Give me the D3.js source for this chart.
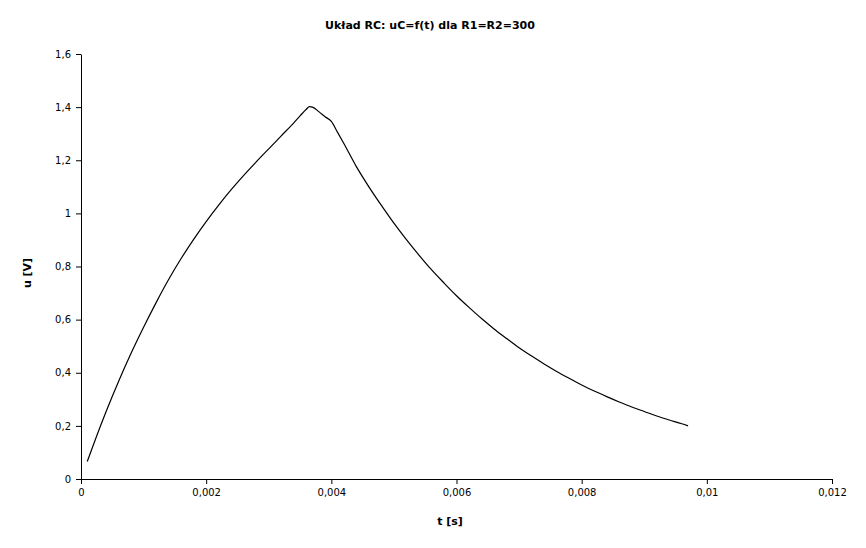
<!DOCTYPE html>
<html>
<head>
<meta charset="utf-8">
<script src="https://cdn.jsdelivr.net/npm/d3@7"></script>
<style>
  html, body { margin: 0; padding: 0; background: #fff; }
  svg { display: block; font-family: "DejaVu Sans", sans-serif; }
</style>
</head>
<body>
<svg id="chart" width="866" height="548"></svg>
<script>
// ---- data ----
const title = "Układ RC: uC=f(t) dla R1=R2=300";
const xLabel = "t [s]";
const yLabel = "u [V]";
const xTicks = [0, 0.002, 0.004, 0.006, 0.008, 0.01, 0.012];
const yTicks = [0, 0.2, 0.4, 0.6, 0.8, 1.0, 1.2, 1.4, 1.6];

const tValues = [
  0.0001, 0.0002, 0.0004, 0.0006, 0.0008, 0.0010, 0.0012, 0.0014, 0.0016, 0.0018,
  0.0020, 0.0022, 0.0024, 0.0026, 0.0028, 0.0030, 0.0032, 0.0034, 0.0035, 0.0036,
  0.00365, 0.0037, 0.0038, 0.0039, 0.0040, 0.0041, 0.0042, 0.0044, 0.0046, 0.0048, 0.0050,
  0.0052, 0.0054, 0.0056, 0.0058, 0.0060, 0.0062, 0.0064, 0.0066, 0.0068, 0.0070,
  0.0072, 0.0074, 0.0076, 0.0078, 0.0080, 0.0082, 0.0084, 0.0086, 0.0088, 0.0090,
  0.0092, 0.0094, 0.0096, 0.0097
];
const uValues = [
  0.066, 0.130, 0.253, 0.367, 0.473, 0.571, 0.664, 0.751, 0.830, 0.902,
  0.969, 1.031, 1.089, 1.143, 1.194, 1.243, 1.292, 1.341, 1.367, 1.392,
  1.402, 1.400, 1.383, 1.364, 1.346, 1.305, 1.263, 1.176, 1.100, 1.030, 0.963,
  0.901, 0.843, 0.788, 0.738, 0.690, 0.646, 0.604, 0.565, 0.529, 0.494,
  0.463, 0.433, 0.405, 0.379, 0.354, 0.331, 0.310, 0.290, 0.271, 0.254,
  0.237, 0.222, 0.208, 0.200
];

// ---- layout ----
const svg = d3.select("#chart");
const x = d3.scaleLinear().domain([0, 0.012]).range([81, 832]);
const y = d3.scaleLinear().domain([0, 1.6]).range([479, 54]);

const fmt = d => String(+d.toFixed(4)).replace(".", ",");

// axes
const xAxis = svg.append("g")
  .attr("transform", "translate(0,479)")
  .call(d3.axisBottom(x).tickValues(xTicks).tickFormat(fmt).tickSize(5).tickSizeOuter(0).tickPadding(5));
const yAxis = svg.append("g")
  .attr("transform", "translate(81,0)")
  .call(d3.axisLeft(y).tickValues(yTicks).tickFormat(fmt).tickSize(5).tickSizeOuter(0).tickPadding(5));

[xAxis, yAxis].forEach(g => {
  g.selectAll("path.domain").attr("stroke", "#000").attr("stroke-width", 1);
  g.selectAll(".tick line").attr("stroke", "#000");
  g.selectAll(".tick text")
    .attr("font-family", "DejaVu Sans, sans-serif")
    .attr("font-size", 10)
    .attr("fill", "#000");
});

// line
const pts = tValues.map((t, i) => [t, uValues[i]]);
svg.append("path")
  .datum(pts)
  .attr("fill", "none")
  .attr("stroke", "#000")
  .attr("stroke-width", 1.2)
  .attr("d", d3.line().x(d => x(d[0])).y(d => y(d[1])).curve(d3.curveMonotoneX));

// title and axis labels
svg.append("text")
  .attr("x", 430).attr("y", 29)
  .attr("text-anchor", "middle")
  .attr("font-size", 11).attr("font-weight", "bold")
  .text(title);

svg.append("text")
  .attr("x", 450).attr("y", 525)
  .attr("text-anchor", "middle")
  .attr("font-size", 11).attr("font-weight", "bold")
  .text(xLabel);

svg.append("text")
  .attr("transform", "translate(31,273) rotate(-90)")
  .attr("text-anchor", "middle")
  .attr("font-size", 11).attr("font-weight", "bold")
  .text(yLabel);
</script>
</body>
</html>
